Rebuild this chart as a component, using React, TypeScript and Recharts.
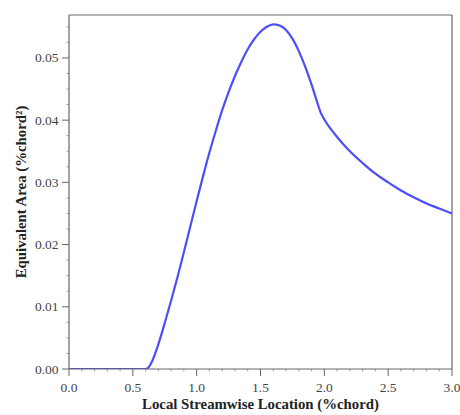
import React from "react";
import { LineChart, Line, XAxis, YAxis, ReferenceLine } from "recharts";

const xValues = [
  0.0, 0.3, 0.6, 0.625, 0.65, 0.7, 0.75, 0.8, 0.85, 0.9, 0.95, 1.0, 1.05, 1.1, 1.15, 1.2, 1.25,
  1.3, 1.35, 1.4, 1.45, 1.5, 1.55, 1.6, 1.65, 1.7, 1.75, 1.8, 1.85, 1.9, 1.95, 1.97, 2.0, 2.05,
  2.1, 2.15, 2.2, 2.3, 2.4, 2.5, 2.6, 2.7, 2.8, 2.9, 3.0,
];
const areaValues = [
  0, 0, 0, 0.0003, 0.0012, 0.004, 0.0074, 0.011, 0.0148, 0.0188, 0.0229, 0.027, 0.031, 0.0348,
  0.0383, 0.0416, 0.0445, 0.0471, 0.0494, 0.0514, 0.053, 0.0542, 0.055, 0.0554, 0.0552, 0.0545,
  0.0531, 0.0511, 0.0486, 0.0457, 0.0425, 0.0413, 0.0401, 0.0386, 0.0373, 0.0361, 0.035, 0.0331,
  0.0314, 0.03, 0.0287, 0.0276, 0.0266, 0.0258, 0.025,
];

const xMajorTicks = [0, 0.5, 1.0, 1.5, 2.0, 2.5, 3.0];
const xMinorTicks = [
  0.1, 0.2, 0.3, 0.4, 0.6, 0.7, 0.8, 0.9, 1.1, 1.2, 1.3, 1.4, 1.6, 1.7, 1.8, 1.9, 2.1, 2.2, 2.3,
  2.4, 2.6, 2.7, 2.8, 2.9,
];
const yMajorTicks = [0, 0.01, 0.02, 0.03, 0.04, 0.05];
const yMinorTicks = [
  0.0025, 0.005, 0.0075, 0.0125, 0.015, 0.0175, 0.0225, 0.025, 0.0275, 0.0325, 0.035, 0.0375,
  0.0425, 0.045, 0.0475, 0.0525, 0.055,
];
const xDomain = [0, 3];
const yDomain = [0, 0.0569];

const xTitle = "Local Streamwise Location (%chord)";
const yTitle = "Equivalent Area (%chord²)";

const data = xValues.map((x, i) => ({ x, area: areaValues[i] }));

const FONT = "'Liberation Serif', 'DejaVu Serif', serif";
const AXIS = "#666666";
const LABEL = "#444444";

const isIn = (arr: number[], v: number) => arr.some((a) => Math.abs(a - v) < 1e-9);

const XTick = (props: any) => {
  const { x, y, payload } = props;
  const v = payload.value;
  if (isIn(xMajorTicks, v)) {
    return (
      <g>
        <line x1={x} x2={x} y1={y} y2={y + 7} stroke={AXIS} strokeWidth={1} />
        <text x={x} y={y + 23} textAnchor="middle" style={{ fontFamily: FONT, fontSize: 13.5 }} fill={LABEL}>
          {v.toFixed(1)}
        </text>
      </g>
    );
  }
  return <line x1={x} x2={x} y1={y} y2={y + 2.5} stroke={AXIS} strokeOpacity={0.6} strokeWidth={1} />;
};

const YTick = (props: any) => {
  const { x, y, payload } = props;
  const v = payload.value;
  if (isIn(yMajorTicks, v)) {
    return (
      <g>
        <line x1={x - 7} x2={x} y1={y} y2={y} stroke={AXIS} strokeWidth={1} />
        <text x={x - 10.5} y={y + 4.5} textAnchor="end" style={{ fontFamily: FONT, fontSize: 13.5 }} fill={LABEL}>
          {v.toFixed(2)}
        </text>
      </g>
    );
  }
  return <line x1={x - 2.5} x2={x} y1={y} y2={y} stroke={AXIS} strokeOpacity={0.6} strokeWidth={1} />;
};

const XTitle = (props: any) => {
  const vb = props.viewBox || {};
  return (
    <text
      x={vb.x + vb.width / 2}
      y={vb.y + vb.height - 6}
      textAnchor="middle"
      style={{ fontFamily: FONT, fontWeight: "bold", fontSize: 14.8 }}
      fill="#222"
    >
      {xTitle}
    </text>
  );
};

const YTitle = (props: any) => {
  const vb = props.viewBox || {};
  const cx = vb.x + 21;
  const cy = vb.y + vb.height / 2;
  return (
    <text
      x={cx}
      y={cy}
      transform={`rotate(-90, ${cx}, ${cy})`}
      textAnchor="middle"
      dominantBaseline="central"
      style={{ fontFamily: FONT, fontWeight: "bold", fontSize: 14.8 }}
      fill="#222"
    >
      {yTitle}
    </text>
  );
};

export default function App() {
  const xTicks = [...xMajorTicks, ...xMinorTicks].sort((a, b) => a - b);
  const yTicks = [...yMajorTicks, ...yMinorTicks].sort((a, b) => a - b);
  return (
    <div style={{ position: "absolute", left: 0, top: 0, width: 460, height: 415, background: "#fff" }}>
      <LineChart width={460} height={415} data={data} margin={{ top: 15, right: 8, bottom: 0, left: 0 }}>
        <XAxis
          dataKey="x"
          type="number"
          domain={xDomain}
          ticks={xTicks}
          interval={0}
          height={46}
          tickSize={0}
          tickMargin={0}
          tickLine={false}
          axisLine={{ stroke: AXIS, strokeWidth: 1.2 }}
          tick={<XTick />}
          label={<XTitle />}
        />
        <YAxis
          type="number"
          domain={yDomain}
          ticks={yTicks}
          interval={0}
          width={69}
          tickSize={0}
          tickMargin={0}
          tickLine={false}
          axisLine={{ stroke: AXIS, strokeWidth: 1.2 }}
          tick={<YTick />}
          label={<YTitle />}
          allowDataOverflow
        />
        <ReferenceLine y={yDomain[1]} stroke={AXIS} strokeWidth={1.2} />
        <ReferenceLine x={xDomain[1]} stroke={AXIS} strokeWidth={1.2} />
        <Line
          dataKey="area"
          type="monotone"
          stroke="#4d4dff"
          strokeWidth={2.2}
          dot={false}
          isAnimationActive={false}
        />
      </LineChart>
    </div>
  );
}
